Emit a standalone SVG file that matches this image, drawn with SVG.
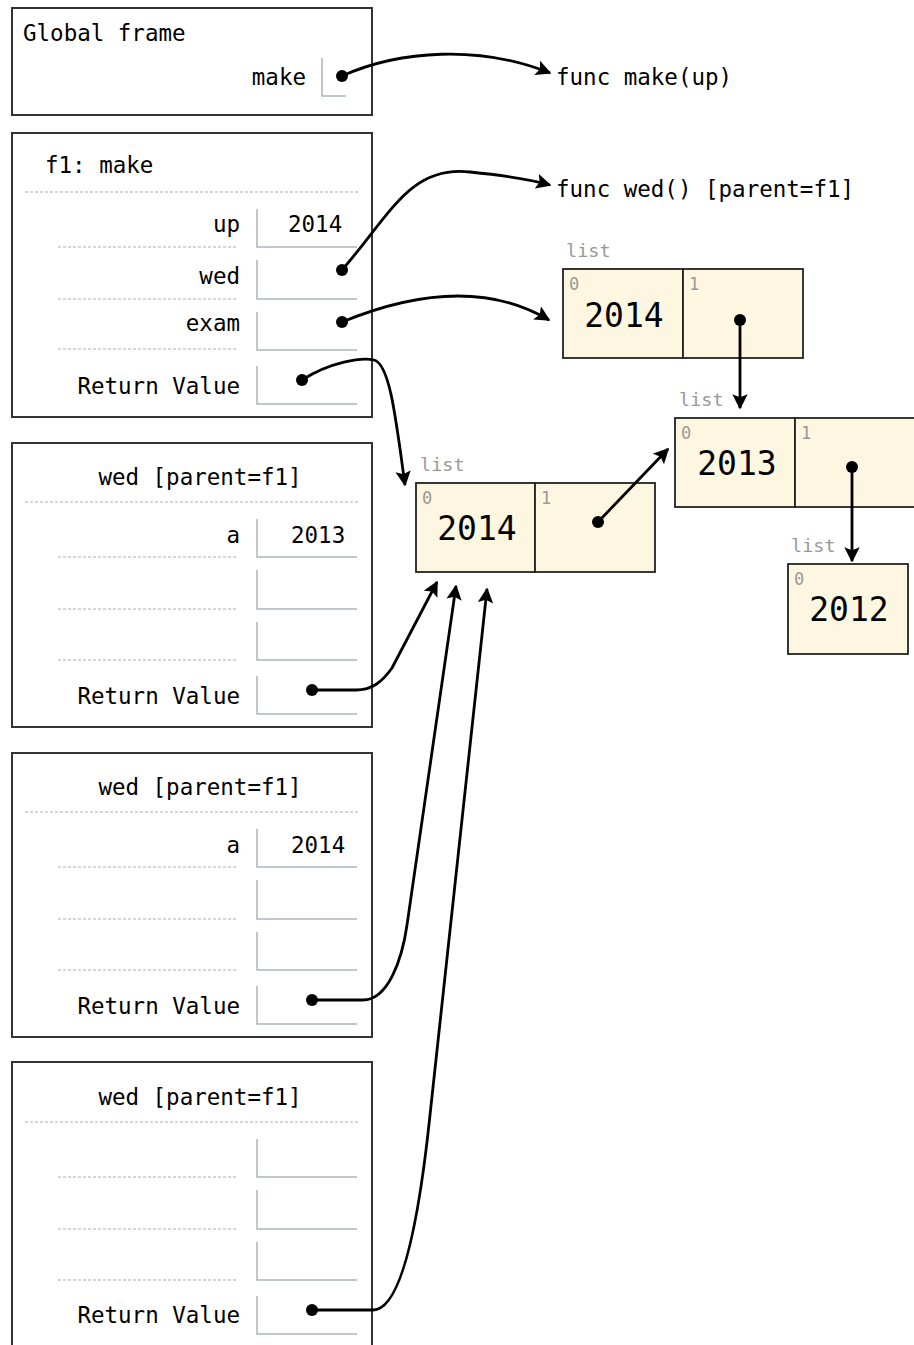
<svg xmlns="http://www.w3.org/2000/svg" width="914" height="1345" viewBox="0 0 914 1345">
<defs>
<style>
.t{font-family:"DejaVu Sans Mono","Liberation Mono",monospace;font-size:22.5px;fill:#000}
.r{text-anchor:end}
.m{text-anchor:middle}
.frame{fill:#fff;stroke:#333;stroke-width:2}
.vb{fill:none;stroke:#a9b6bc;stroke-width:1.5}
.dl{stroke:#aab;stroke-width:1;stroke-dasharray:3,2}
.cell{fill:#fdf7e1;stroke:#222;stroke-width:1.8}
.lbl{font-family:"DejaVu Sans Mono","Liberation Mono",monospace;font-size:18.5px;fill:#999}
.idx{font-family:"DejaVu Sans Mono","Liberation Mono",monospace;font-size:17px;fill:#999}
.big{font-family:"DejaVu Sans Mono","Liberation Mono",monospace;font-size:33px;fill:#000;text-anchor:middle}
.c{fill:none;stroke:#000;stroke-width:2.8;marker-end:url(#ah)}
.dot{fill:#000}
</style>
<marker id="ah" viewBox="0 0 10 10" refX="9" refY="5" markerWidth="5.5" markerHeight="5.5" orient="auto" markerUnits="strokeWidth">
<path d="M0,0 L10,5 L0,10 L2,5 z" fill="#000"/>
</marker>
</defs>
<rect width="914" height="1345" fill="#fff"/>

<g id="global">
<rect class="frame" x="12" y="8" width="360" height="107"/>
<text class="t" x="23" y="41">Global frame</text>
<text class="t r" x="306" y="85">make</text>
<path class="vb" d="M322,58 V96 H346"/>
</g>

<g id="f1">
<rect class="frame" x="12" y="133" width="360" height="284"/>
<text class="t" x="45" y="173">f1: make</text>
<line class="dl" x1="25" y1="192" x2="359" y2="192"/>
<text class="t r" x="240" y="232">up</text>
<path class="vb" d="M257,209 V247 H357"/>
<text class="t" x="288" y="232">2014</text>
<line class="dl" x1="58" y1="247" x2="238" y2="247"/>
<text class="t r" x="240" y="284">wed</text>
<path class="vb" d="M257,260 V299 H357"/>
<line class="dl" x1="58" y1="299" x2="238" y2="299"/>
<text class="t r" x="240" y="331">exam</text>
<path class="vb" d="M257,312 V350 H357"/>
<line class="dl" x1="58" y1="349" x2="238" y2="349"/>
<text class="t r" x="240" y="394">Return Value</text>
<path class="vb" d="M257,366 V404 H357"/>
</g>

<g id="wed1">
<rect class="frame" x="12" y="443" width="360" height="284"/>
<text class="t m" x="200" y="485">wed [parent=f1]</text>
<line class="dl" x1="25" y1="502" x2="359" y2="502"/>
<text class="t r" x="240" y="543">a</text>
<path class="vb" d="M257,519 V557 H357"/>
<text class="t" x="291" y="543">2013</text>
<line class="dl" x1="58" y1="557" x2="238" y2="557"/>
<path class="vb" d="M257,570 V609 H357"/>
<line class="dl" x1="58" y1="609" x2="238" y2="609"/>
<path class="vb" d="M257,622 V660 H357"/>
<line class="dl" x1="58" y1="660" x2="238" y2="660"/>
<text class="t r" x="240" y="704">Return Value</text>
<path class="vb" d="M257,676 V714 H357"/>
</g>

<g id="wed2">
<rect class="frame" x="12" y="753" width="360" height="284"/>
<text class="t m" x="200" y="795">wed [parent=f1]</text>
<line class="dl" x1="25" y1="812" x2="359" y2="812"/>
<text class="t r" x="240" y="853">a</text>
<path class="vb" d="M257,829 V867 H357"/>
<text class="t" x="291" y="853">2014</text>
<line class="dl" x1="58" y1="867" x2="238" y2="867"/>
<path class="vb" d="M257,880 V919 H357"/>
<line class="dl" x1="58" y1="919" x2="238" y2="919"/>
<path class="vb" d="M257,932 V970 H357"/>
<line class="dl" x1="58" y1="970" x2="238" y2="970"/>
<text class="t r" x="240" y="1014">Return Value</text>
<path class="vb" d="M257,986 V1024 H357"/>
</g>

<g id="wed3">
<rect class="frame" x="12" y="1062" width="360" height="300"/>
<text class="t m" x="200" y="1105">wed [parent=f1]</text>
<line class="dl" x1="25" y1="1122" x2="359" y2="1122"/>
<path class="vb" d="M257,1139 V1177 H357"/>
<line class="dl" x1="58" y1="1177" x2="238" y2="1177"/>
<path class="vb" d="M257,1190 V1229 H357"/>
<line class="dl" x1="58" y1="1229" x2="238" y2="1229"/>
<path class="vb" d="M257,1242 V1280 H357"/>
<line class="dl" x1="58" y1="1280" x2="238" y2="1280"/>
<text class="t r" x="240" y="1323">Return Value</text>
<path class="vb" d="M257,1296 V1334 H357"/>
</g>

<g id="func-make">
<text class="t" x="556" y="85">func make(up)</text>
</g>
<g id="func-wed">
<text class="t" x="556" y="197">func wed() [parent=f1]</text>
</g>

<g id="listA">
<text class="lbl" x="566" y="257">list</text>
<rect class="cell" x="563" y="269" width="120" height="89"/>
<rect class="cell" x="683" y="269" width="120" height="89"/>
<text class="idx" x="569" y="290">0</text>
<text class="idx" x="689" y="290">1</text>
<text class="big" x="624" y="327">2014</text>
</g>

<g id="listB">
<text class="lbl" x="679" y="406">list</text>
<rect class="cell" x="675" y="418" width="120" height="89"/>
<rect class="cell" x="795" y="418" width="122" height="89"/>
<text class="idx" x="681" y="439">0</text>
<text class="idx" x="801" y="439">1</text>
<text class="big" x="737" y="475">2013</text>
</g>

<g id="listC">
<text class="lbl" x="791" y="552">list</text>
<rect class="cell" x="788" y="564" width="120" height="90"/>
<text class="idx" x="794" y="585">0</text>
<text class="big" x="849" y="621">2012</text>
</g>

<g id="listD">
<text class="lbl" x="420" y="471">list</text>
<rect class="cell" x="416" y="483" width="119" height="89"/>
<rect class="cell" x="535" y="483" width="120" height="89"/>
<text class="idx" x="422" y="504">0</text>
<text class="idx" x="541" y="504">1</text>
<text class="big" x="477" y="540">2014</text>
</g>

<g id="connectors">
<circle class="dot" cx="342" cy="76" r="6"/>
<path class="c" d="M342,76 C400,50 480,45 550,73"/>
<circle class="dot" cx="342" cy="270" r="6"/>
<path class="c" d="M342,270 C390,215 410,165 470,172 C500,175 525,178 550,185"/>
<circle class="dot" cx="342" cy="322" r="6"/>
<path class="c" d="M342,322 C420,290 490,285 549,320"/>
<circle class="dot" cx="302" cy="380" r="6"/>
<path class="c" d="M302,380 C330,362 362,357 374,360 C390,364 396,420 405,485"/>
<circle class="dot" cx="312" cy="690" r="6"/>
<path class="c" d="M312,690 L356,690 C372,690 382,682 392,668 L437,582"/>
<circle class="dot" cx="312" cy="1000" r="6"/>
<path class="c" d="M312,1000 L363,1000 C388,1000 402,960 407,925 L456,586"/>
<circle class="dot" cx="312" cy="1310" r="6"/>
<path class="c" d="M312,1310 L373,1310 C400,1310 418,1230 430,1115 L487,589"/>
<circle class="dot" cx="598" cy="522" r="6"/>
<path class="c" d="M598,522 L668,449"/>
<circle class="dot" cx="740" cy="320" r="6"/>
<path class="c" d="M740,320 L740,408"/>
<circle class="dot" cx="852" cy="467" r="6"/>
<path class="c" d="M852,467 L852,561"/>
</g>
</svg>
